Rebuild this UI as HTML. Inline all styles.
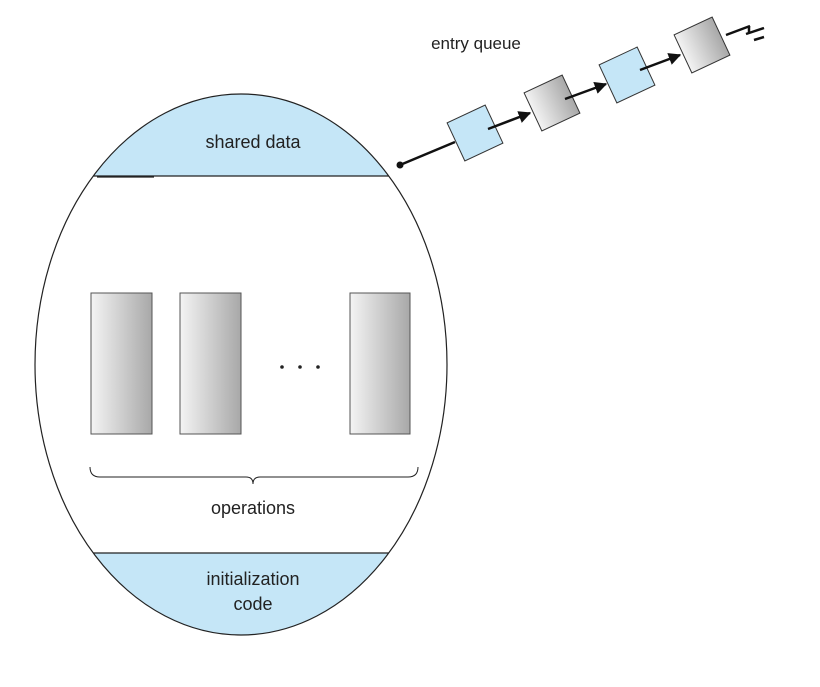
<!DOCTYPE html>
<html><head><style>html,body{margin:0;padding:0;background:#fff}</style></head><body>
<svg width="820" height="682" viewBox="0 0 820 682" xmlns="http://www.w3.org/2000/svg" font-family="Liberation Sans, sans-serif">
<defs>
<linearGradient id="g" x1="0" y1="0" x2="1" y2="0"><stop offset="0" stop-color="#f4f4f4"/><stop offset="1" stop-color="#a8a8a8"/></linearGradient>
<clipPath id="ec"><ellipse cx="241" cy="364.5" rx="206" ry="270.5"/></clipPath>
<marker id="ah" viewBox="0 0 10 10" refX="9" refY="5" markerWidth="5" markerHeight="5" orient="auto"><path d="M0,0L10,5L0,10z" fill="#111"/></marker>
</defs>
<g clip-path="url(#ec)">
<rect x="0" y="80" width="460" height="96" fill="#c5e6f7"/>
<rect x="0" y="553" width="460" height="100" fill="#c5e6f7"/>
<line x1="30" y1="176" x2="450" y2="176" stroke="#222" stroke-width="1.2"/>
<line x1="30" y1="553" x2="450" y2="553" stroke="#222" stroke-width="1.2"/>
</g>
<ellipse cx="241" cy="364.5" rx="206" ry="270.5" fill="none" stroke="#222" stroke-width="1.2"/>
<line x1="97" y1="177" x2="154" y2="177" stroke="#222" stroke-width="1.2"/>
<text x="253" y="148" font-size="18" text-anchor="middle" fill="#222">shared data</text>
<rect x="91" y="293" width="61" height="141" fill="url(#g)" stroke="#555"/>
<rect x="180" y="293" width="61" height="141" fill="url(#g)" stroke="#555"/>
<rect x="350" y="293" width="60" height="141" fill="url(#g)" stroke="#555"/>
<circle cx="282" cy="367" r="1.8" fill="#222"/><circle cx="300" cy="367" r="1.8" fill="#222"/><circle cx="318" cy="367" r="1.8" fill="#222"/>
<path d="M90,467 Q90,477 100,477 L246,477 Q253,477 253,484 Q253,477 260,477 L408,477 Q418,477 418,467" fill="none" stroke="#222" stroke-width="1"/>
<text x="253" y="514" font-size="18" text-anchor="middle" fill="#222">operations</text>
<text x="253" y="585" font-size="18" text-anchor="middle" fill="#222">initialization</text>
<text x="253" y="610" font-size="18" text-anchor="middle" fill="#222">code</text>
<text x="476" y="49" font-size="17" text-anchor="middle" fill="#222">entry queue</text>
<circle cx="400" cy="165" r="3.5" fill="#111"/>
<line x1="400" y1="165" x2="455" y2="142" stroke="#111" stroke-width="2.5"/>
<g stroke="#333" stroke-width="1">
<rect x="-21" y="-21" width="42" height="42" fill="#c5e6f7" transform="translate(475,133) rotate(-25)"/>
<rect x="-21" y="-21" width="42" height="42" fill="url(#g)" transform="translate(552,103) rotate(-25)"/>
<rect x="-21" y="-21" width="42" height="42" fill="#c5e6f7" transform="translate(627,75) rotate(-25)"/>
<rect x="-21" y="-21" width="42" height="42" fill="url(#g)" transform="translate(702,45) rotate(-25)"/>
</g>
<g stroke="#111" stroke-width="2.5" marker-end="url(#ah)">
<line x1="488" y1="129" x2="530" y2="113"/>
<line x1="565" y1="99" x2="606" y2="84"/>
<line x1="640" y1="70" x2="680" y2="55"/>
</g>
<g stroke="#111" stroke-width="2.5" fill="none">
<line x1="726" y1="35" x2="750" y2="26"/>
<line x1="749" y1="26" x2="749" y2="33"/>
<line x1="746" y1="34" x2="764" y2="28"/>
<line x1="754" y1="40" x2="764" y2="37"/>
</g>
</svg>
</body></html>
